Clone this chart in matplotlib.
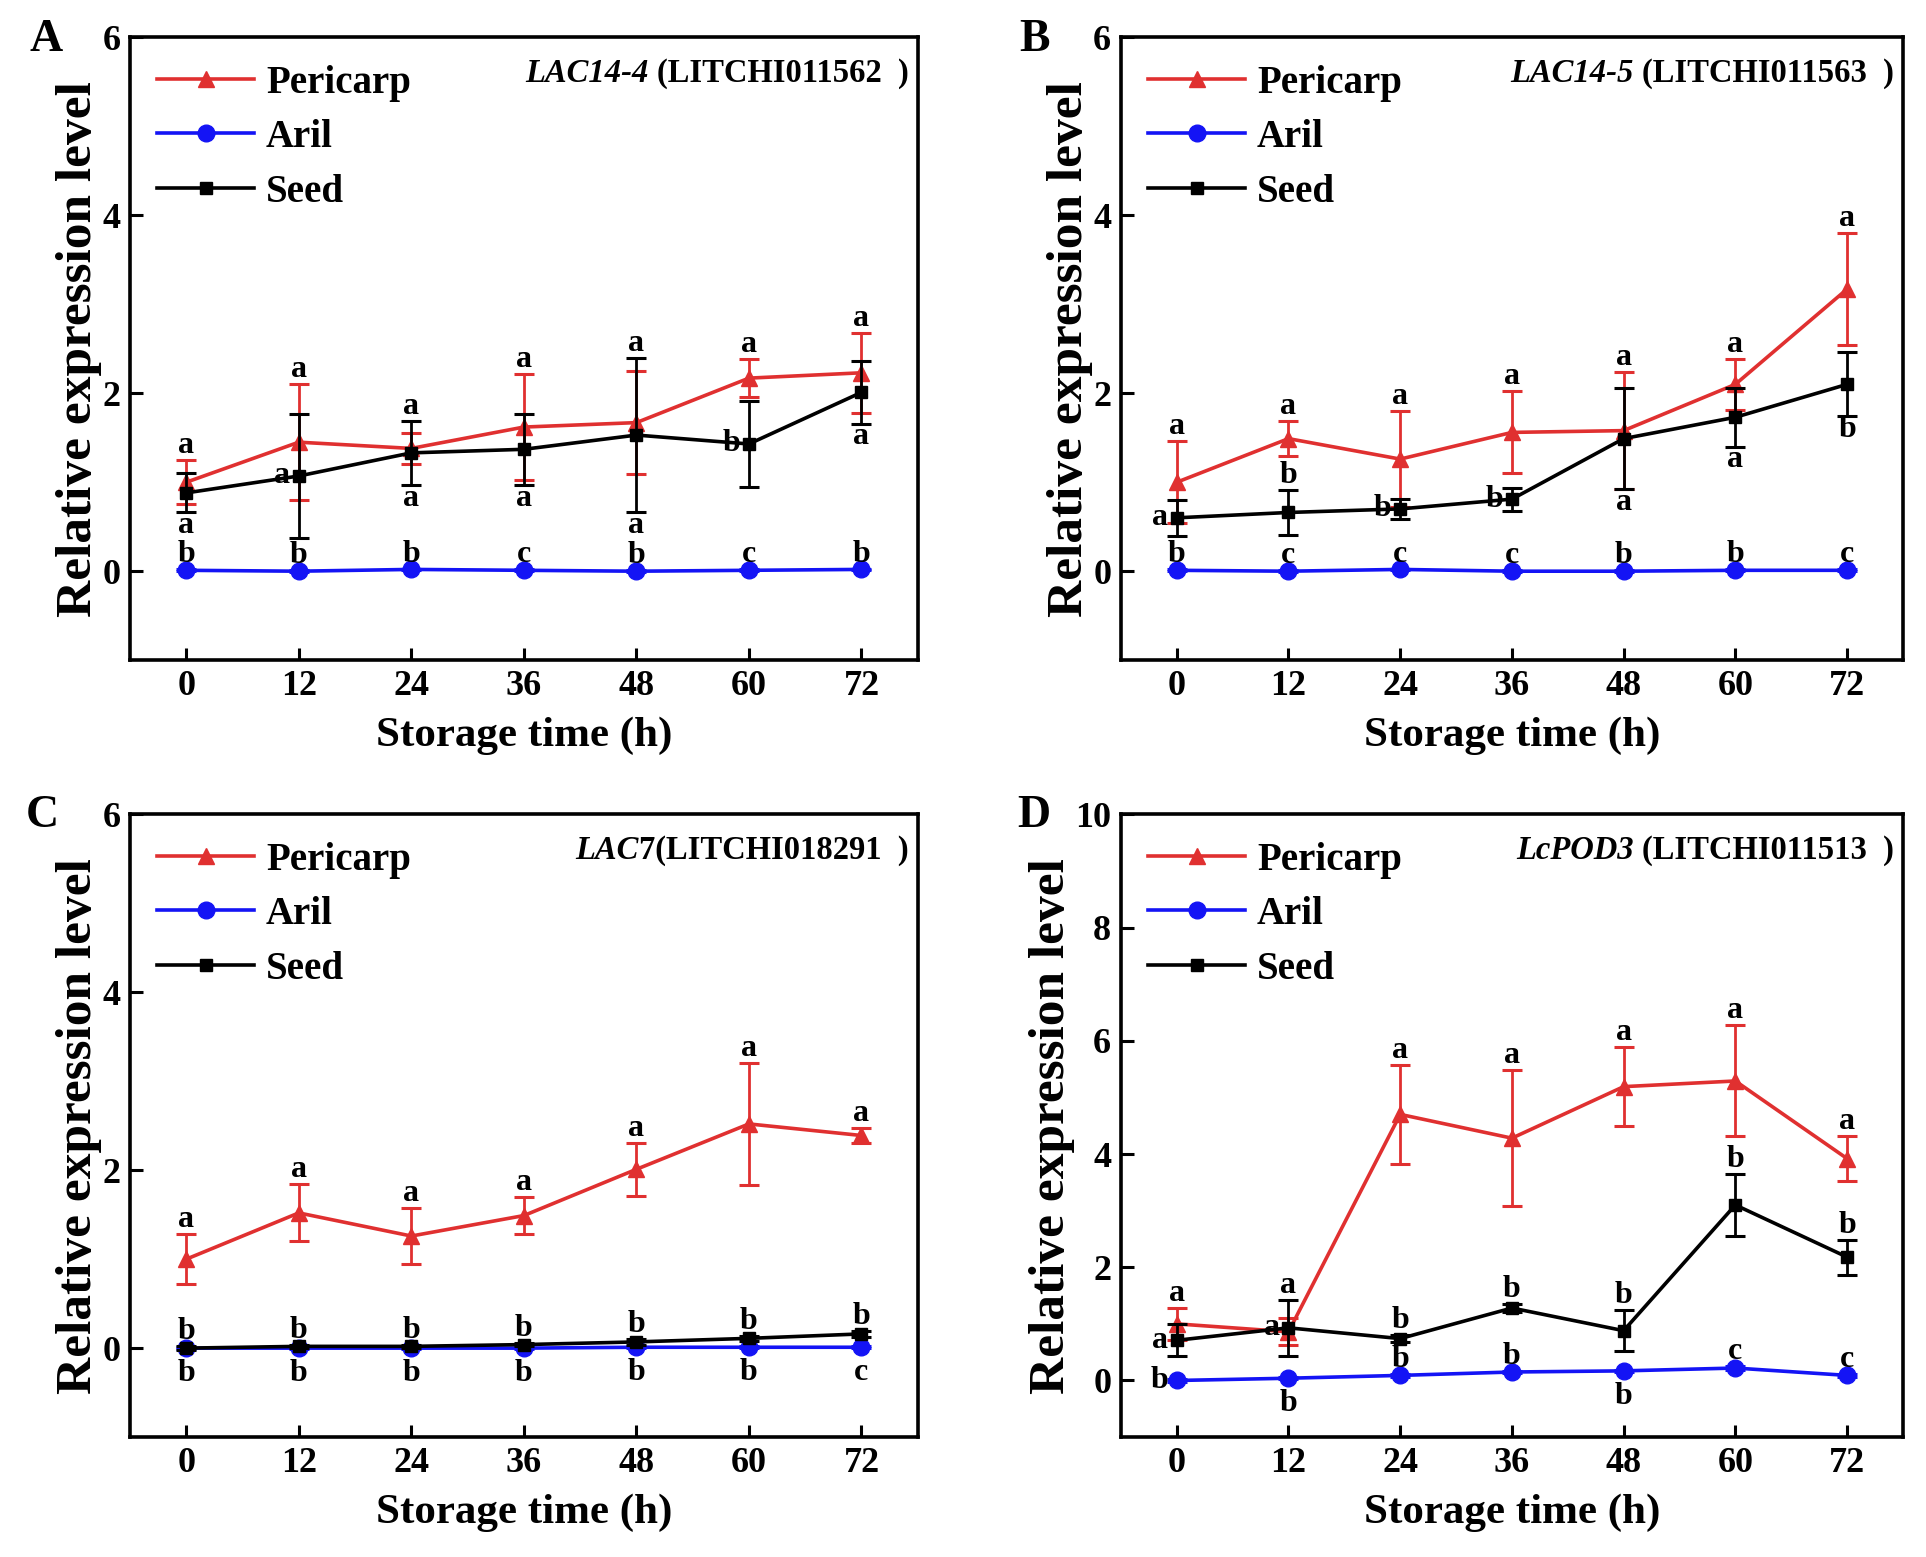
import matplotlib.pyplot as plt

plt.rcParams['font.family'] = ['Liberation Serif', 'DejaVu Serif']
plt.rcParams['font.weight'] = 'bold'

times = [0, 12, 24, 36, 48, 60, 72]

# panel A  LAC14-4
a_peri = [1.00, 1.45, 1.38, 1.62, 1.67, 2.17, 2.23]
a_peri_err = [0.25, 0.65, 0.17, 0.60, 0.58, 0.21, 0.45]
a_aril = [0.01, 0.00, 0.02, 0.01, 0.00, 0.01, 0.02]
a_aril_err = [0.01, 0.01, 0.01, 0.01, 0.01, 0.01, 0.01]
a_seed = [0.88, 1.07, 1.33, 1.37, 1.53, 1.43, 2.01]
a_seed_err = [0.22, 0.70, 0.36, 0.40, 0.87, 0.48, 0.35]
a_let_peri = ['a', 'a', 'a', 'a', 'a', 'a', 'a']
a_let_aril = ['b', 'b', 'b', 'c', 'b', 'c', 'b']
a_let_seed = ['a', 'a', 'a', 'a', 'a', 'b', 'a']
# where each letter sits: U above all bars, u above own bar,
# d below own bar, D below the marker, l left of the point
a_pos_peri = 'UUUUUUU'
a_pos_aril = 'uuuuuuu'
a_pos_seed = 'dldddld'

# panel B  LAC14-5
b_peri = [1.00, 1.49, 1.26, 1.56, 1.58, 2.10, 3.17]
b_peri_err = [0.46, 0.20, 0.54, 0.46, 0.66, 0.29, 0.63]
b_aril = [0.01, 0.00, 0.02, 0.00, 0.00, 0.01, 0.01]
b_aril_err = [0.01, 0.01, 0.01, 0.01, 0.01, 0.01, 0.01]
b_seed = [0.60, 0.66, 0.70, 0.81, 1.49, 1.73, 2.10]
b_seed_err = [0.20, 0.25, 0.11, 0.13, 0.57, 0.33, 0.36]
b_let_peri = ['a', 'a', 'a', 'a', 'a', 'a', 'a']
b_let_aril = ['b', 'c', 'c', 'c', 'b', 'b', 'c']
b_let_seed = ['a', 'b', 'b', 'b', 'a', 'a', 'b']
b_pos_peri = 'UUUUUUU'
b_pos_aril = 'uuuuuuu'
b_pos_seed = 'lullddd'

# panel C  LAC7
c_peri = [1.00, 1.52, 1.26, 1.49, 2.01, 2.52, 2.39]
c_peri_err = [0.28, 0.32, 0.31, 0.21, 0.30, 0.69, 0.08]
c_aril = [0.00, 0.00, 0.00, 0.00, 0.01, 0.01, 0.01]
c_aril_err = [0.01, 0.01, 0.01, 0.01, 0.01, 0.01, 0.01]
c_seed = [0.00, 0.02, 0.02, 0.04, 0.07, 0.11, 0.16]
c_seed_err = [0.02, 0.02, 0.02, 0.02, 0.03, 0.03, 0.03]
c_let_peri = ['a', 'a', 'a', 'a', 'a', 'a', 'a']
c_let_aril = ['b', 'b', 'b', 'b', 'b', 'b', 'c']
c_let_seed = ['b', 'b', 'b', 'b', 'b', 'b', 'b']
c_pos_peri = 'uuuuuuu'
c_pos_aril = 'DDDDDDD'
c_pos_seed = 'uuuuuuu'

# panel D  LcPOD3
d_peri = [1.00, 0.86, 4.70, 4.28, 5.19, 5.29, 3.92]
d_peri_err = [0.28, 0.24, 0.87, 1.20, 0.70, 0.98, 0.40]
d_aril = [0.00, 0.04, 0.09, 0.15, 0.17, 0.22, 0.09]
d_aril_err = [0.02, 0.02, 0.02, 0.02, 0.02, 0.03, 0.02]
d_seed = [0.71, 0.93, 0.74, 1.28, 0.88, 3.10, 2.18]
d_seed_err = [0.28, 0.50, 0.06, 0.07, 0.36, 0.54, 0.31]
d_let_peri = ['a', 'a', 'a', 'a', 'a', 'a', 'a']
d_let_aril = ['b', 'b', 'b', 'b', 'b', 'c', 'c']
d_let_seed = ['a', 'a', 'b', 'b', 'b', 'b', 'b']
d_pos_peri = 'UUUUUUU'
d_pos_aril = 'lDuuDuu'
d_pos_seed = 'lluuuuu'

red = '#e03030'
blue = '#1414f5'
black = '#000000'
LET_FS = 23


def draw(ax, gene, rest, peri, peri_err, aril, aril_err, seed, seed_err,
         letters, ytop, yticks):
    series = [
        (peri, peri_err, red, '^', 12, 'Pericarp'),
        (aril, aril_err, blue, 'o', 12, 'Aril'),
        (seed, seed_err, black, 's', 8, 'Seed'),
    ]
    for vals, errs, col, mk, ms, name in series:
        ax.errorbar(times, vals, yerr=errs, fmt='none', ecolor=col,
                    elinewidth=2, capsize=7, capthick=2.2)
        ax.plot(times, vals, color=col, marker=mk, ms=ms, lw=2.6, label=name)

    top_all = [max(p + pe, s + se) for p, pe, s, se in zip(peri, peri_err, seed, seed_err)]
    for (vals, errs), (labs, pos) in zip([(peri, peri_err), (aril, aril_err), (seed, seed_err)], letters):
        for i, t in enumerate(times):
            m = pos[i]
            if m == 'U':
                xy, off, ha, va = (t, top_all[i]), (0, 0), 'center', 'bottom'
            elif m == 'u':
                xy, off, ha, va = (t, vals[i] + errs[i]), (0, 0), 'center', 'bottom'
            elif m == 'd':
                xy, off, ha, va = (t, vals[i] - errs[i]), (0, 1), 'center', 'top'
            elif m == 'D':
                xy, off, ha, va = (t, vals[i] - errs[i]), (0, -7), 'center', 'top'
            else:
                xy, off, ha, va = (t, vals[i]), (-6, 0), 'right', 'center'
            ax.annotate(labs[i], xy, xytext=off, textcoords='offset points',
                        ha=ha, va=va, fontsize=LET_FS)

    ax.set_xlim(-6, 78)
    ax.set_ylim(-1, ytop)
    ax.set_xticks(times)
    ax.set_yticks(yticks)
    ax.tick_params(direction='in', length=9, width=2.2, labelsize=26, pad=7,
                   top=False, right=False)
    for lab in ax.get_xticklabels() + ax.get_yticklabels():
        lab.set_fontweight('bold')
    for sp in ax.spines.values():
        sp.set_linewidth(2.6)
    ax.set_xlabel('Storage time (h)', fontsize=31, fontweight='bold', labelpad=10)
    ax.set_ylabel('Relative expression level', fontsize=37, fontweight='bold', labelpad=0)

    ax.legend(loc='upper left', frameon=False, fontsize=28, handlelength=2.5,
              labelspacing=0.45, handletextpad=0.3, borderaxespad=0.2,
              borderpad=0.5)

    t_up = ax.text(0.988, 0.928, rest, transform=ax.transAxes, ha='right',
                   va='baseline', fontsize=23.5, fontweight='bold')
    ax.annotate(gene, xy=(0, 0.928), xycoords=(t_up, 'axes fraction'),
                ha='right', va='baseline', fontsize=23.5, fontweight='bold',
                fontstyle='italic')


fig = plt.figure(figsize=(19.26, 15.57), dpi=100)
ax_a = fig.add_axes([0.0675, 0.576, 0.409, 0.400])
ax_b = fig.add_axes([0.582, 0.576, 0.406, 0.400])
ax_c = fig.add_axes([0.0675, 0.077, 0.409, 0.400])
ax_d = fig.add_axes([0.582, 0.077, 0.406, 0.400])

draw(ax_a, 'LAC14-4 ', '(LITCHI011562  )', a_peri, a_peri_err, a_aril, a_aril_err,
     a_seed, a_seed_err,
     [(a_let_peri, a_pos_peri), (a_let_aril, a_pos_aril), (a_let_seed, a_pos_seed)],
     6, [0, 2, 4, 6])
draw(ax_b, 'LAC14-5 ', '(LITCHI011563  )', b_peri, b_peri_err, b_aril, b_aril_err,
     b_seed, b_seed_err,
     [(b_let_peri, b_pos_peri), (b_let_aril, b_pos_aril), (b_let_seed, b_pos_seed)],
     6, [0, 2, 4, 6])
draw(ax_c, 'LAC', '7(LITCHI018291  )', c_peri, c_peri_err, c_aril, c_aril_err,
     c_seed, c_seed_err,
     [(c_let_peri, c_pos_peri), (c_let_aril, c_pos_aril), (c_let_seed, c_pos_seed)],
     6, [0, 2, 4, 6])
draw(ax_d, 'LcPOD3 ', '(LITCHI011513  )', d_peri, d_peri_err, d_aril, d_aril_err,
     d_seed, d_seed_err,
     [(d_let_peri, d_pos_peri), (d_let_aril, d_pos_aril), (d_let_seed, d_pos_seed)],
     10, [0, 2, 4, 6, 8, 10])

for tag, x, y in [('A', 0.024, 0.974), ('B', 0.537, 0.974), ('C', 0.022, 0.476), ('D', 0.537, 0.476)]:
    fig.text(x, y, tag, fontsize=33, fontweight='bold', ha='center', va='center')

fig.savefig('out.png', dpi=100)
